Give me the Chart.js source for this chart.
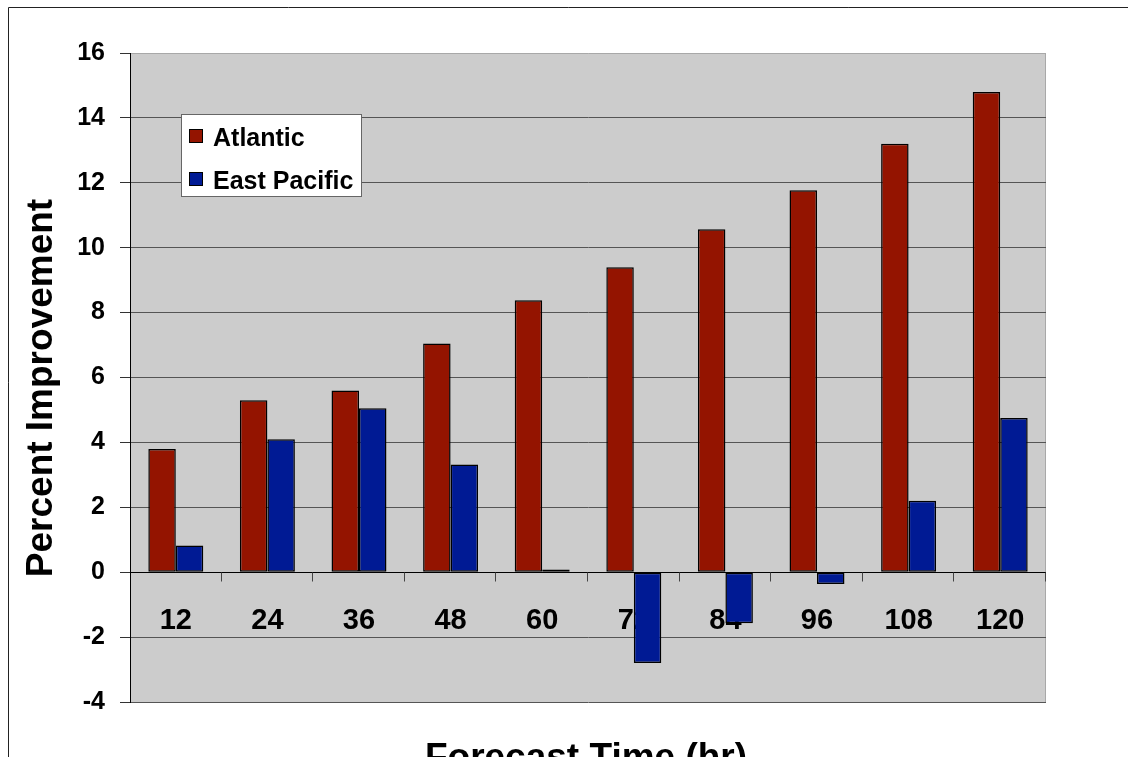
<!DOCTYPE html>
<html>
<head>
<meta charset="utf-8">
<title>Percent Improvement by Forecast Time</title>
<script src="https://cdn.jsdelivr.net/npm/chart.js@4/dist/chart.umd.min.js"></script>
<style>
  html, body { margin: 0; padding: 0; background: #fff; }
  #wrap { width: 1128px; height: 757px; position: relative; }
</style>
</head>
<body>
<div id="wrap"><canvas id="chart"></canvas></div>
<script>
const categories = ['12', '24', '36', '48', '60', '72', '84', '96', '108', '120'];
const atlantic = [3.8, 5.3, 5.6, 7.05, 8.38, 9.4, 10.57, 11.77, 13.2, 14.8];
const eastPacific = [0.82, 4.1, 5.05, 3.32, 0.08, -2.8, -1.57, -0.36, 2.2, 4.75];
const yTicks = [-4, -2, 0, 2, 4, 6, 8, 10, 12, 14, 16];

const FONT = '"Liberation Sans", Arial, sans-serif';

// frame, grey plot background and right border
const backdrop = {
    id: 'backdrop',
    beforeDraw(chart) {
        const { ctx, chartArea: a } = chart;
        ctx.save();
        ctx.strokeStyle = '#222';
        ctx.lineWidth = 1;
        ctx.beginPath();
        ctx.moveTo(8.5, chart.height);
        ctx.lineTo(8.5, 7.5);
        ctx.lineTo(chart.width, 7.5);
        ctx.stroke();
        ctx.fillStyle = '#cccccc';
        ctx.fillRect(a.left, a.top, a.right - a.left, a.bottom - a.top);
        ctx.strokeStyle = '#a8a8a8';
        ctx.beginPath();
        ctx.moveTo(a.right - 0.5, a.top);
        ctx.lineTo(a.right - 0.5, a.bottom);
        ctx.stroke();
        ctx.restore();
    }
};

// category labels and tick marks sit on the zero line, under the bars
const zeroAxis = {
    id: 'zeroAxis',
    beforeDatasetsDraw(chart) {
        const { ctx, chartArea: a, scales: { x, y } } = chart;
        const y0 = Math.round(y.getPixelForValue(0)) + 0.5;
        const step = (a.right - a.left) / categories.length;
        ctx.save();
        ctx.strokeStyle = '#000';
        ctx.lineWidth = 1;
        ctx.beginPath();
        ctx.moveTo(a.left, y0);
        ctx.lineTo(a.right, y0);
        ctx.stroke();
        ctx.strokeStyle = '#444';
        ctx.beginPath();
        for (let k = 1; k <= categories.length; k++) {
            const px = Math.round(a.left + k * step) - 0.5;
            ctx.moveTo(px, y0);
            ctx.lineTo(px, y0 + 9);
        }
        ctx.stroke();
        ctx.fillStyle = '#000';
        ctx.font = 'bold 29px ' + FONT;
        ctx.textAlign = 'center';
        ctx.textBaseline = 'alphabetic';
        categories.forEach((c, i) => {
            ctx.fillText(c, x.getPixelForValue(i), y0 + 56);
        });
        ctx.restore();
    }
};

// axis titles and the boxed legend
const overlay = {
    id: 'overlay',
    afterDraw(chart) {
        const { ctx } = chart;
        ctx.save();
        ctx.fillStyle = '#000';
        ctx.font = 'bold 37px ' + FONT;
        ctx.textAlign = 'center';
        ctx.textBaseline = 'alphabetic';
        ctx.fillText('Forecast Time (hr)', 586, 769);
        ctx.translate(52, 388);
        ctx.rotate(-Math.PI / 2);
        ctx.fillText('Percent Improvement', 0, 0);
        ctx.restore();

        ctx.save();
        const lx = 181, ly = 114, lw = 181, lh = 83;
        ctx.fillStyle = '#fff';
        ctx.fillRect(lx, ly, lw, lh);
        ctx.strokeStyle = '#666';
        ctx.lineWidth = 1;
        ctx.strokeRect(lx + 0.5, ly + 0.5, lw - 1, lh - 1);
        ctx.font = 'bold 25px ' + FONT;
        ctx.textBaseline = 'alphabetic';
        chart.data.datasets.forEach((ds, i) => {
            const sy = 129 + i * 43;
            ctx.fillStyle = ds.backgroundColor;
            ctx.fillRect(189, sy, 14, 14);
            ctx.strokeStyle = '#000';
            ctx.strokeRect(189.5, sy + 0.5, 13, 13);
            ctx.fillStyle = '#000';
            ctx.fillText(ds.label, 213, sy + 17);
        });
        ctx.restore();
    }
};

new Chart(document.getElementById('chart'), {
    type: 'bar',
    data: {
        labels: categories,
        datasets: [
            { label: 'Atlantic', data: atlantic, backgroundColor: '#941400', borderColor: '#000', borderWidth: 1.5, borderSkipped: false },
            { label: 'East Pacific', data: eastPacific, backgroundColor: '#001a94', borderColor: '#000', borderWidth: 1.5, borderSkipped: false }
        ]
    },
    options: {
        responsive: true,
        maintainAspectRatio: false,
        animation: false,
        layout: { padding: { left: 0, top: 53, right: 82, bottom: 55 } },
        datasets: { bar: { categoryPercentage: 0.6, barPercentage: 1.0 } },
        scales: {
            x: { display: false },
            y: {
                min: -4,
                max: 16,
                afterFit(scale) { scale.width = 130; },
                afterBuildTicks(scale) { scale.ticks = yTicks.map(v => ({ value: v })); },
                grid: {
                    color: ctx => {
                        const v = ctx.tick && ctx.tick.value;
                        if (v === 16) return '#a8a8a8';
                        if (v === 0) return '#000';
                        return '#555';
                    },
                    tickColor: '#333',
                    tickLength: 10,
                    lineWidth: 1
                },
                border: { display: true, color: '#000', width: 1 },
                ticks: {
                    color: '#000',
                    padding: 15,
                    font: { family: FONT, size: 25, weight: 'bold' }
                }
            }
        },
        plugins: {
            legend: { display: false },
            tooltip: { enabled: false }
        }
    },
    plugins: [backdrop, zeroAxis, overlay]
});
</script>
</body>
</html>
